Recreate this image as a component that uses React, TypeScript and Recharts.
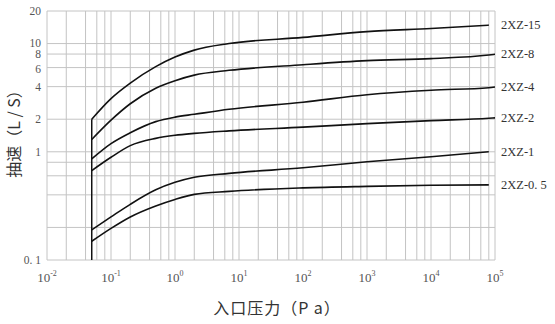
import { LineChart, Line, XAxis, YAxis, CartesianGrid, ReferenceLine } from "recharts";

// inlet pressure (Pa), shared x values for all curves
const PRESSURE = [0.05, 0.1, 0.2, 0.5, 1, 2, 7, 100, 1000, 10000, 80000, 100000];

// pumping speed (L/S) per model
const S_15 = [2.0, 3.1, 4.31, 6.12, 7.5, 8.7, 10.0, 11.4, 12.9, 13.8, 14.8, null];
const S_8 = [1.3, 1.96, 2.78, 3.87, 4.54, 5.11, 5.66, 6.38, 6.95, 7.26, 7.83, 7.96];
const S_4 = [0.86, 1.19, 1.5, 1.9, 2.09, 2.22, 2.47, 2.87, 3.37, 3.71, 3.91, 3.97];
const S_2 = [0.67, 0.89, 1.14, 1.33, 1.42, 1.48, 1.56, 1.69, 1.82, 1.94, 2.04, 2.06];
const S_1 = [0.19, 0.25, 0.327, 0.445, 0.522, 0.581, 0.632, 0.711, 0.808, 0.899, 1.0, null];
const S_05 = [0.149, 0.196, 0.25, 0.316, 0.363, 0.404, 0.431, 0.464, 0.479, 0.49, 0.495, null];

const SERIES = [
  { key: "s15", label: "2XZ-15", values: S_15 },
  { key: "s8", label: "2XZ-8", values: S_8 },
  { key: "s4", label: "2XZ-4", values: S_4 },
  { key: "s2", label: "2XZ-2", values: S_2 },
  { key: "s1", label: "2XZ-1", values: S_1 },
  { key: "s05", label: "2XZ-0. 5", values: S_05 },
];

// grid ticks
const MANTISSA = [1, 2, 4, 6, 8];
const X_DECADES = [0.01, 0.1, 1, 10, 100, 1000, 10000];
const X_TICKS = [...X_DECADES.flatMap((d) => MANTISSA.map((m) => +(m * d).toPrecision(3))), 100000];
const X_LABELS: Record<string, string> = {
  "0.01": "-2", "0.1": "-1", "1": "0", "10": "1", "100": "2", "1000": "3", "10000": "4", "100000": "5",
};
const Y_TICKS = [0.1, 0.2, 0.4, 0.6, 0.8, 1, 2, 4, 6, 8, 10, 20];
const Y_LABELS: Record<string, string> = {
  "0.1": "0. 1", "1": "1", "2": "2", "4": "4", "6": "6", "8": "8", "10": "10", "20": "20",
};
// small nudges so the tightly stacked 10 / 8 / 6 labels don't collide
const Y_NUDGE: Record<string, number> = { "10": -1, "6": 1 };

const START_P = 0.05;
const START_TOP = 2.0;

const data = PRESSURE.map((p, i) => {
  const row: Record<string, number | null> = { p };
  SERIES.forEach((s) => (row[s.key] = s.values[i]));
  return row;
});

const W = 555;
const H = 324;
const M = { top: 11, right: 60, bottom: 34, left: 10 };
const PLOT_RIGHT = W - M.right;
const SERIF = "'Liberation Serif', 'DejaVu Serif', serif";
const CJK = "'Noto Sans CJK SC', sans-serif";

function XTick({ x, y, payload }: any) {
  const exp = X_LABELS[String(payload.value)];
  if (exp === undefined) return null;
  return (
    <text x={x} y={y + 14} textAnchor="middle" fontFamily={SERIF} fontSize={13} fill="#555">
      <tspan>10</tspan>
      <tspan dy={-6} fontSize={8}>{exp}</tspan>
    </text>
  );
}

function YTick({ x, y, payload }: any) {
  const key = String(payload.value);
  const t = Y_LABELS[key];
  if (!t) return null;
  return (
    <text x={x} y={y + (Y_NUDGE[key] || 0)} dy={4} textAnchor="end" fontFamily={SERIF} fontSize={11.5} fill="#555">
      {t}
    </text>
  );
}

function endLabel(label: string, last: number) {
  return (props: any) => {
    if (props.index !== last) return null;
    return (
      <text x={PLOT_RIGHT + 6} y={props.y} dy={4} fontFamily={SERIF} fontSize={12.5} fill="#333">
        {label}
      </text>
    );
  };
}

export default function App() {
  return (
    <div style={{ position: "absolute", left: 0, top: 0, background: "#fff" }}>
      <LineChart width={W} height={H} data={data} margin={M}>
        <CartesianGrid stroke="#c4c4c4" strokeWidth={1} />
        <XAxis
          dataKey="p"
          type="number"
          scale="log"
          domain={[0.01, 100000]}
          ticks={X_TICKS}
          interval={0}
          allowDataOverflow
          axisLine={false}
          tickLine={false}
          height={30}
          tick={<XTick />}
          label={{
            content: ({ viewBox }: any) => (
              <text
                x={viewBox.x + viewBox.width / 2 + 6}
                y={viewBox.y + 54}
                textAnchor="middle"
                fontFamily={CJK}
                fontSize={16}
                letterSpacing={1}
                fill="#333"
              >
                入口压力（P a）
              </text>
            ),
          }}
        />
        <YAxis
          type="number"
          scale="log"
          domain={[0.1, 20]}
          ticks={Y_TICKS}
          interval={0}
          allowDataOverflow
          axisLine={false}
          tickLine={false}
          tickSize={0}
          tickMargin={6}
          width={37}
          tick={<YTick />}
          label={{
            content: () => (
              <text
                x={13}
                y={130}
                transform="rotate(-90 13 130)"
                textAnchor="middle"
                dominantBaseline="central"
                fontFamily={CJK}
                fontSize={16}
                fill="#333"
              >
                抽速（L / S）
              </text>
            ),
          }}
        />
        <ReferenceLine
          segment={[{ x: START_P, y: 0.1 }, { x: START_P, y: START_TOP }]}
          stroke="#111"
          strokeWidth={1.5}
          ifOverflow="visible"
        />
        {SERIES.map((s) => {
          let last = s.values.length - 1;
          while (s.values[last] == null) last--;
          return (
            <Line
              key={s.key}
              type="monotone"
              dataKey={s.key}
              stroke="#111"
              strokeWidth={1.6}
              dot={false}
              activeDot={false}
              isAnimationActive={false}
              label={endLabel(s.label, last)}
            />
          );
        })}
      </LineChart>
    </div>
  );
}
